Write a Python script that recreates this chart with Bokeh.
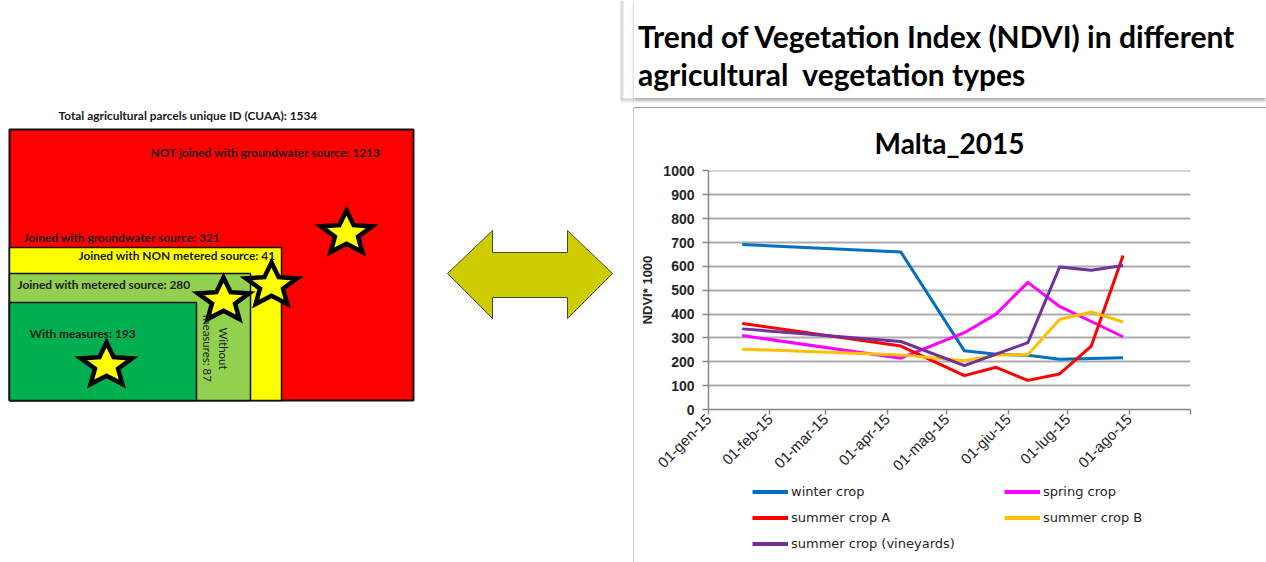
import math
import pandas as pd
from bokeh.plotting import figure
from bokeh.layouts import row, column
from bokeh.models import Range1d, FixedTicker, Legend, LegendItem, ColumnDataSource, Div
from bokeh.core.properties import value
from bokeh.embed import file_html
from bokeh.resources import INLINE

# ---------------- data: NDVI chart ----------------
obs_dates = ["2015-01-18", "2015-04-08", "2015-05-10", "2015-05-26",
             "2015-06-11", "2015-06-27", "2015-07-13", "2015-07-29"]
winter_crop = [692, 660, 246, 232, 227, 211, 214, 217]
spring_crop = [310, 215, 322, 400, 533, 432, 369, 305]
summer_crop_a = [361, 266, 142, 177, 122, 149, 266, 646]
summer_crop_b = [253, 229, 204, 228, 230, 377, 409, 367]
summer_crop_vineyards = [338, 285, 184, 232, 280, 597, 584, 604]
series_names = ["winter crop", "spring crop", "summer crop A",
                "summer crop B", "summer crop (vineyards)"]
series_colors = ["#0070C0", "#FF00FF", "#FF0000", "#FFC000", "#7030A0"]
month_ticks = ["2015-01-01", "2015-02-01", "2015-03-01", "2015-04-01", "2015-05-01",
               "2015-06-01", "2015-07-01", "2015-08-01", "2015-09-01"]
month_labels = ["01-gen-15", "01-feb-15", "01-mar-15", "01-apr-15", "01-mag-15",
                "01-giu-15", "01-lug-15", "01-ago-15", ""]
y_ticks = [0, 100, 200, 300, 400, 500, 600, 700, 800, 900, 1000]
chart_title = "Malta_2015"
y_label = "NDVI* 1000"
header_lines = ["Trend of Vegetation Index (NDVI) in different",
                "agricultural&nbsp; vegetation types"]

# ---------------- data: parcels diagram ----------------
total_parcels = 1534
not_joined = 1213
joined_gw = 321
joined_non_metered = 41
joined_metered = 280
with_measures = 193
without_measures = 87

# ---------------- left panel: schematic diagram (screen-pixel layout) ----------------
L = figure(width=634, height=562, x_range=Range1d(0, 634), y_range=Range1d(562, 0),
           output_backend="svg", toolbar_location=None, min_border=0,
           x_axis_location=None, y_axis_location=None, outline_line_color=None)
L.xgrid.visible = False
L.ygrid.visible = False

box_layout = dict(left=[9, 9, 9, 9], right=[413, 281, 250, 196],
                  top=[129, 247, 273, 302], bottom=[400, 400, 400, 400],
                  color=["#FF0000", "#FFFF00", "#92D050", "#00B050"],
                  lw=[2.0, 1.5, 1.5, 1.5])
L.quad(left="left", right="right", top="top", bottom="bottom", fill_color="color",
       line_color="#111111", line_width="lw", source=ColumnDataSource(box_layout))

def star(cx, cy, rx, ry, inner=0.45):
    xs, ys = [], []
    for k in range(10):
        a = math.pi / 2 + k * math.pi / 5
        f = 1.0 if k % 2 == 0 else inner
        xs.append(cx + rx * f * math.cos(a))
        ys.append(cy - ry * f * math.sin(a))
    return xs, ys

star_centers = [(346, 233), (271, 285), (223, 300), (106, 365)]
sx, sy = [], []
for cx, cy in star_centers:
    a, b = star(cx, cy, 27, 23)
    sx.append(a)
    sy.append(b)
L.patches(sx, sy, fill_color="#FFFF00", line_color="#000000", line_width=4.5,
          line_join="miter")

diag_font = value("Lato")
texts = dict(
    x=[58, 150, 23, 78, 17, 29],
    y=[115, 152, 237, 255, 284, 333],
    t=[f"Total agricultural parcels unique ID (CUAA): {total_parcels}",
       f"NOT joined with groundwater source: {not_joined}",
       f"Joined with groundwater source: {joined_gw}",
       f"Joined with NON metered source: {joined_non_metered}",
       f"Joined with metered source: {joined_metered}",
       f"With measures: {with_measures}"])
L.text(x="x", y="y", text="t", source=ColumnDataSource(texts), text_font=diag_font,
       text_font_size="11.9px", text_font_style="bold", text_color="#1a1a1a",
       text_baseline="middle", text_align="left")
L.text(x=[223, 207], y=[348, 348], text=["Without", f"measures: {without_measures}"],
       angle=-math.pi / 2, text_font=diag_font, text_font_size="11.5px",
       text_color="#1a1a1a", text_baseline="middle", text_align="center")

# double arrow
arrow_x = [447, 492, 492, 567, 567, 612, 567, 567, 492, 492]
arrow_y = [273, 230, 252, 252, 230, 273, 318, 297, 297, 318]
L.patch(arrow_x, arrow_y, fill_color="#CCCC00", line_color="#4a4a20", line_width=1)

# header box shadow (left part) and chart box left border
for i, c in enumerate(["#eeeeee", "#dddddd", "#cccccc", "#d9d9d9"]):
    L.segment(x0=[619.5 + i], y0=[0], x1=[619.5 + i], y1=[99], line_color=c, line_width=1)
for i, c in enumerate(["#c4c4c4", "#cfcfcf", "#dddddd", "#ebebeb"]):
    L.segment(x0=[620], y0=[98.5 + i], x1=[634], y1=[98.5 + i], line_color=c, line_width=1)
L.segment(x0=[633.5], y0=[108], x1=[633.5], y1=[562], line_color="#9a9a9a", line_width=1)
L.segment(x0=[633], y0=[107.5], x1=[634], y1=[107.5], line_color="#9a9a9a", line_width=1)

# ---------------- header (HTML text) ----------------
header_html = (
    '<div style="box-sizing:border-box;width:632px;height:98px;padding:17px 0 0 4px;'
    'background:#ffffff;box-shadow:0 3px 3px rgba(0,0,0,0.30);'
    'font-family:Lato;font-weight:bold;font-size:30px;line-height:38px;color:#000;'
    'white-space:nowrap;">' + "<br>".join(header_lines) + '</div>'
    '<div style="margin-top:9px;width:632px;height:1px;background:#9a9a9a;"></div>'
)
H = Div(text=header_html, width=632, height=108, margin=(0, 0, 0, 0))

# ---------------- chart ----------------
def ms(d):
    return pd.Timestamp(d).value / 1e6

C = figure(width=632, height=374, x_axis_type="datetime",
           x_range=Range1d(ms(month_ticks[0]), ms(month_ticks[-1])),
           y_range=Range1d(0, 1002), output_backend="svg", toolbar_location=None,
           min_border_left=74, min_border_right=76, min_border_top=62,
           min_border_bottom=72, outline_line_color=None)
C.title.text = chart_title
C.title.align = "center"
C.title.text_font = "Lato"
C.title.text_font_size = "28px"
C.title.text_font_style = "bold"
C.title.text_color = "#000000"
C.title.standoff = 21

xs = pd.to_datetime(obs_dates)
all_series = [winter_crop, spring_crop, summer_crop_a, summer_crop_b, summer_crop_vineyards]
for name, ys, col in zip(series_names, all_series, series_colors):
    C.line(xs, ys, line_color=col, line_width=3, line_join="round")

C.xaxis.ticker = FixedTicker(ticks=[ms(d) for d in month_ticks])
C.xaxis.major_label_overrides = {ms(d): lab for d, lab in zip(month_ticks, month_labels)}
C.xaxis.major_label_orientation = math.pi / 4
C.yaxis.ticker = FixedTicker(ticks=y_ticks)
for ax in (C.xaxis, C.yaxis):
    ax.axis_line_color = "#868686"
    ax.axis_line_width = 1.5
    ax.major_tick_line_color = "#868686"
    ax.major_tick_line_width = 1.5
    ax.major_tick_in = 0
    ax.minor_tick_line_color = None
    ax.major_label_text_color = "#262626"
    ax.major_label_text_font = "Liberation Sans"
C.yaxis.major_tick_out = 6
C.xaxis.major_tick_out = 5
C.xaxis.major_label_text_font_size = "15px"
C.yaxis.major_label_text_font_size = "14px"
C.yaxis.major_label_text_font_style = "bold"
C.yaxis.major_label_standoff = 8
C.xaxis.major_label_standoff = 2
C.yaxis.axis_label = y_label
C.yaxis.axis_label_text_font = "Liberation Sans"
C.yaxis.axis_label_text_font_size = "13px"
C.yaxis.axis_label_text_font_style = "bold"
C.yaxis.axis_label_text_color = "#262626"
C.yaxis.axis_label_standoff = 5
C.xgrid.visible = False
C.ygrid.ticker = FixedTicker(ticks=y_ticks)
C.ygrid.grid_line_color = "#ababab"
C.ygrid.grid_line_width = 1.8

# ---------------- legend strip below the chart ----------------
# (same series drawn into a strip whose ranges keep them out of view; only the legend shows)
G = figure(width=632, height=80, x_range=Range1d(0, 1), y_range=Range1d(0, 1),
           output_backend="svg", toolbar_location=None,
           min_border_left=74, min_border_right=76, min_border_top=0,
           min_border_bottom=0, x_axis_location=None, y_axis_location=None,
           outline_line_color=None)
G.xgrid.visible = False
G.ygrid.visible = False
items = []
for name, ys, col in zip(series_names, all_series, series_colors):
    r = G.line(xs, ys, line_color=col, line_width=4)
    items.append(LegendItem(label=name, renderers=[r]))
legend = Legend(items=items, location=(44, 10), orientation="horizontal", ncols=2,
                glyph_width=36, glyph_height=17, label_standoff=3, label_width=204,
                label_height=17, spacing=9, padding=0, margin=0,
                border_line_color=None, background_fill_alpha=0,
                label_text_font="DejaVu Sans", label_text_font_size="13px",
                label_text_color="#262626")
G.add_layout(legend)

layout = row(L, column(H, C, G))
open("out.html", "w").write(file_html(layout, INLINE))
